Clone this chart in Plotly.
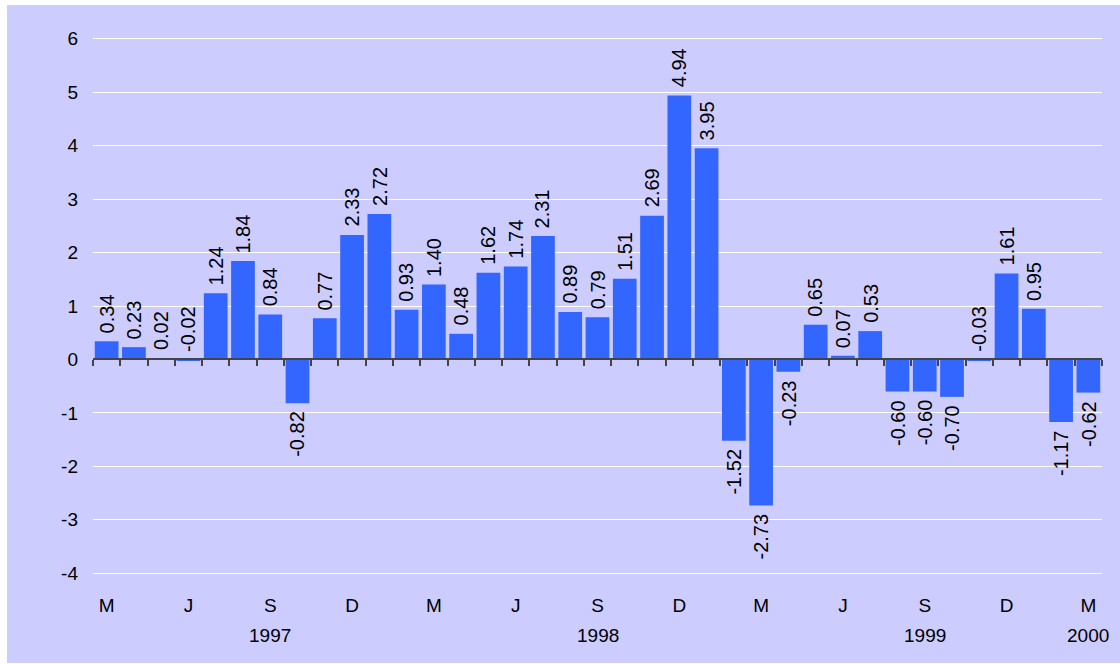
import plotly.graph_objects as go

# ---- data ----
month_letters = ["M", "A", "M", "J", "J", "A", "S", "O", "N", "D",
                 "J", "F", "M", "A", "M", "J", "J", "A", "S", "O", "N", "D",
                 "J", "F", "M", "A", "M", "J", "J", "A", "S", "O", "N", "D",
                 "J", "F", "M"]
month_years = [1997] * 10 + [1998] * 12 + [1999] * 12 + [2000] * 3
values = [0.34, 0.23, 0.02, -0.02, 1.24, 1.84, 0.84, -0.82, 0.77, 2.33,
          2.72, 0.93, 1.40, 0.48, 1.62, 1.74, 2.31, 0.89, 0.79, 1.51, 2.69, 4.94,
          3.95, -1.52, -2.73, -0.23, 0.65, 0.07, 0.53, -0.60, -0.60, -0.70, -0.03, 1.61,
          0.95, -1.17, -0.62]
quarter_month_idx = [0, 3, 6, 9, 12, 15, 18, 21, 24, 27, 30, 33, 36]  # M J S D ...
year_labels = ["1997", "1998", "1999", "2000"]
year_label_idx = [6, 18, 30, 36]
y_ticks = [-4, -3, -2, -1, 0, 1, 2, 3, 4, 5, 6]
y_ticktext = ["-4", "-3", "-2", "-1", "0", "1", "2", "3", "4", "5", "6"]

# ---- style ----
BG = "#CCCCFF"
BAR = "#3366FF"
FONT = "Liberation Sans, Arial, sans-serif"
W, H = 1120, 664
ML, MR, MT, MB = 93, 18, 20, 72
YMIN, YMAX = -4.35, 6.35

n = len(values)
idx = list(range(n))

fig = go.Figure()
fig.add_trace(go.Bar(x=idx, y=values, marker=dict(color=BAR, line=dict(width=0)),
                     hoverinfo="x+y", showlegend=False))
# invisible trace to host the zero-line tick axis
fig.add_trace(go.Scatter(x=idx, y=values, xaxis="x2", yaxis="y", mode="markers",
                         marker=dict(opacity=0), hoverinfo="skip", showlegend=False))

# value labels
for i, v in enumerate(values):
    neg = v < -0.05
    fig.add_annotation(x=i, y=v if (neg or v > 0) else 0, xref="x", yref="y",
                       text=f"{v:.2f}", textangle=-90, showarrow=False,
                       xanchor="center", yanchor="top" if neg else "bottom",
                       yshift=-6 if neg else 6,
                       font=dict(family=FONT, size=20, color="black"))

# year labels
for lab, i in zip(year_labels, year_label_idx):
    fig.add_annotation(x=i, y=0, xref="x", yref="paper", text=lab, showarrow=False,
                       xanchor="center", yanchor="middle", yshift=-43,
                       font=dict(family=FONT, size=19, color="black"))

pw = W - ML - MR
ph = H - MT - MB
fig.add_shape(type="rect", xref="paper", yref="paper", layer="below",
              x0=(7 - ML) / pw, x1=(W - ML) / pw,
              y0=-(663 - (H - MB)) / ph, y1=(H - MB - 5) / ph,
              fillcolor=BG, line=dict(width=0))

fig.update_layout(
    width=W, height=H,
    margin=dict(l=ML, r=MR, t=MT, b=MB),
    paper_bgcolor="white", plot_bgcolor=BG,
    bargap=0.13,
    font=dict(family=FONT, size=19, color="black"),
    xaxis=dict(range=[-0.5, n - 0.5], tickvals=quarter_month_idx,
               ticktext=[month_letters[i] for i in quarter_month_idx],
               showgrid=False, zeroline=False, showline=False, ticks="",
               tickfont=dict(size=19)),
    xaxis2=dict(range=[-0.5, n - 0.5], overlaying="x", anchor="free",
                position=(0 - YMIN) / (YMAX - YMIN),
                tickvals=[i - 0.5 for i in range(n + 1)], showticklabels=False,
                ticks="outside", ticklen=6, tickwidth=1.5, tickcolor="#444444",
                showline=True, linecolor="#444444", linewidth=1.5,
                showgrid=False, zeroline=False),
    yaxis=dict(range=[YMIN, YMAX], tickvals=y_ticks, ticktext=y_ticktext,
               showgrid=True, gridcolor="white", gridwidth=1, zeroline=False,
               showline=False, ticks="", ticklabelstandoff=14,
               tickfont=dict(size=19)),
)

fig.write_html("out.html", config={"displayModeBar": False},
               post_script="document.body.style.margin='0';document.body.style.overflow='hidden';")
